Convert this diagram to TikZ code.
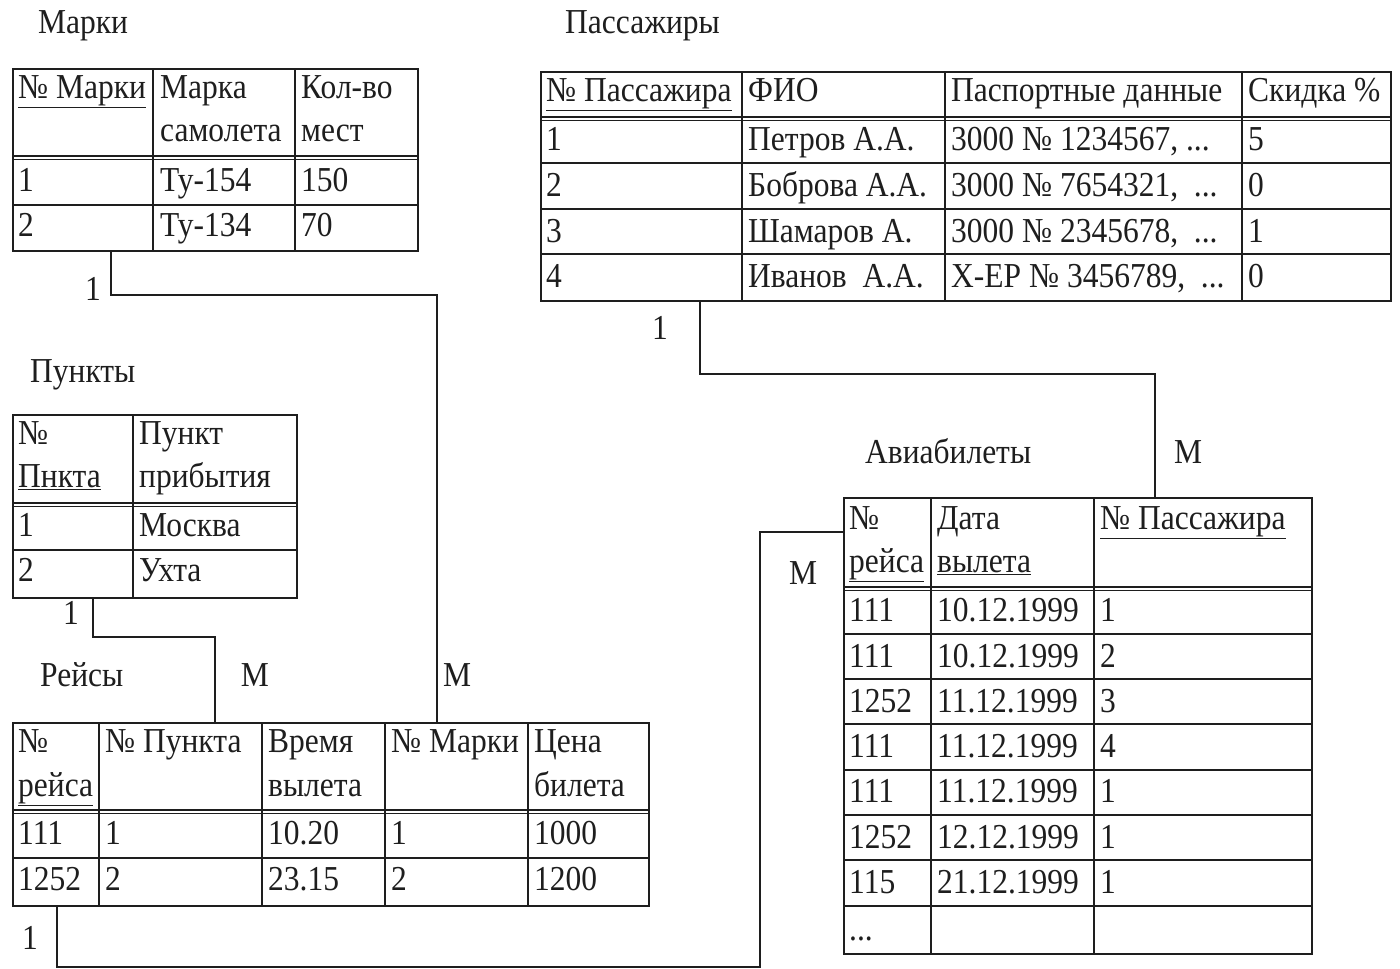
\documentclass[tikz,border=0pt]{standalone}
\usepackage{fontspec}
\setmainfont{Liberation Serif}[FakeStretch=0.9]
\definecolor{ink}{HTML}{1E1E1E}
\newcommand\tabfs{\fontsize{35}{42}\selectfont}
\begin{document}
\begin{tikzpicture}[x=1pt,y=-1pt,
  txt/.style={anchor=base west, inner sep=0pt, font=\tabfs, text=ink},
  lbl/.style={anchor=center, inner sep=0pt, font=\tabfs, text=ink},
  tbl/.style={draw=ink, line width=2pt, anchor=north west, inner sep=0pt},
  gridline/.style={draw=ink, line width=1.8pt},
  conn/.style={draw=ink, line width=1.8pt}]
\useasboundingbox[fill=white] (0,0) rectangle (1400,969);

% ---------- titles ----------
\node[txt] (t-marki) at (38,33) {Марки};
\node[txt] (t-pass) at (565,33) {Пассажиры};
\node[txt] (t-punkty) at (30,382) {Пункты};
\node[txt] (t-reisy) at (40,686) {Рейсы};
\node[txt] (t-avia) at (865,463) {Авиабилеты};

% ---------- table Марки ----------
\node[tbl, minimum width=405pt, minimum height=182pt] (marki) at (12,68) {};
\foreach \x in {153,295} \draw[gridline] (\x,68) -- (\x,250);
\foreach \y in {156,159.5,205} \draw[gridline] (12,\y) -- (417,\y);
\node[txt] (m-h1) at (18,98) {\underline{№ Марки}};
\node[txt] (m-h2a) at (160,98) {Марка};
\node[txt] (m-h2b) at (160,141) {самолета};
\node[txt] (m-h3a) at (301,98) {Кол-во};
\node[txt] (m-h3b) at (301,141) {мест};
\node[txt] (m-11) at (18,191) {1};
\node[txt] (m-12) at (160,191) {Ту-154};
\node[txt] (m-13) at (301,191) {150};
\node[txt] (m-21) at (18,236) {2};
\node[txt] (m-22) at (160,236) {Ту-134};
\node[txt] (m-23) at (301,236) {70};

% ---------- table Пассажиры ----------
\node[tbl, minimum width=850pt, minimum height=229pt] (pass) at (540,71) {};
\foreach \x in {742,945,1242} \draw[gridline] (\x,71) -- (\x,300);
\foreach \y in {117,120.5,163,209,254} \draw[gridline] (540,\y) -- (1390,\y);
\node[txt] (p-h1) at (546,101) {\underline{№ Пассажира}};
\node[txt] (p-h2) at (748,101) {ФИО};
\node[txt] (p-h3) at (951,101) {Паспортные данные};
\node[txt] (p-h4) at (1248,101) {Скидка \%};
\node[txt] (p-11) at (546,150) {1};
\node[txt] (p-12) at (748,150) {Петров А.А.};
\node[txt] (p-13) at (951,150) {3000 № 1234567, ...};
\node[txt] (p-14) at (1248,150) {5};
\node[txt] (p-21) at (546,196) {2};
\node[txt] (p-22) at (748,196) {Боброва А.А.};
\node[txt] (p-23) at (951,196) {3000 № 7654321, \ ...};
\node[txt] (p-24) at (1248,196) {0};
\node[txt] (p-31) at (546,242) {3};
\node[txt] (p-32) at (748,242) {Шамаров А.};
\node[txt] (p-33) at (951,242) {3000 № 2345678, \ ...};
\node[txt] (p-34) at (1248,242) {1};
\node[txt] (p-41) at (546,287) {4};
\node[txt] (p-42) at (748,287) {Иванов \ А.А.};
\node[txt] (p-43) at (951,287) {X-EP № 3456789, \ ...};
\node[txt] (p-44) at (1248,287) {0};

% ---------- table Пункты ----------
\node[tbl, minimum width=284pt, minimum height=183pt] (punkty) at (12,414) {};
\draw[gridline] (133,414) -- (133,597);
\foreach \y in {503,506.5,550} \draw[gridline] (12,\y) -- (296,\y);
\node[txt] (u-h1a) at (18,444) {№};
\node[txt] (u-h1b) at (18,487) {\underline{Пнкта}};
\node[txt] (u-h2a) at (139,444) {Пункт};
\node[txt] (u-h2b) at (139,487) {прибытия};
\node[txt] (u-11) at (18,536) {1};
\node[txt] (u-12) at (139,536) {Москва};
\node[txt] (u-21) at (18,581) {2};
\node[txt] (u-22) at (139,581) {Ухта};

% ---------- table Рейсы ----------
\node[tbl, minimum width=636pt, minimum height=183pt] (reisy) at (12,722) {};
\foreach \x in {99,262,385,528} \draw[gridline] (\x,722) -- (\x,905);
\foreach \y in {810,813.5,858} \draw[gridline] (12,\y) -- (648,\y);
\node[txt] (r-h1a) at (18,752) {№};
\node[txt] (r-h1b) at (18,796) {\underline{рейса}};
\node[txt] (r-h2) at (105,752) {№ Пункта};
\node[txt] (r-h3a) at (268,752) {Время};
\node[txt] (r-h3b) at (268,796) {вылета};
\node[txt] (r-h4) at (391,752) {№ Марки};
\node[txt] (r-h5a) at (534,752) {Цена};
\node[txt] (r-h5b) at (534,796) {билета};
\node[txt] (r-11) at (18,844) {111};
\node[txt] (r-12) at (105,844) {1};
\node[txt] (r-13) at (268,844) {10.20};
\node[txt] (r-14) at (391,844) {1};
\node[txt] (r-15) at (534,844) {1000};
\node[txt] (r-21) at (18,890) {1252};
\node[txt] (r-22) at (105,890) {2};
\node[txt] (r-23) at (268,890) {23.15};
\node[txt] (r-24) at (391,890) {2};
\node[txt] (r-25) at (534,890) {1200};

% ---------- table Авиабилеты ----------
\node[tbl, minimum width=468pt, minimum height=456pt] (avia) at (843,497) {};
\foreach \x in {931,1094} \draw[gridline] (\x,497) -- (\x,953);
\foreach \y in {587,590.5,634,679,724,770,815,860,906} \draw[gridline] (843,\y) -- (1311,\y);
\node[txt] (a-h1a) at (849,529) {№};
\node[txt] (a-h1b) at (849,572) {\underline{рейса}};
\node[txt] (a-h2a) at (937,529) {Дата};
\node[txt] (a-h2b) at (937,572) {\underline{вылета}};
\node[txt] (a-h3) at (1100,529) {\underline{№ Пассажира}};
\foreach \n/\y/\a/\b/\c in {1/621/111/10.12.1999/1, 2/667/111/10.12.1999/2,
  3/712/1252/11.12.1999/3, 4/757/111/11.12.1999/4, 5/802/111/11.12.1999/1,
  6/848/1252/12.12.1999/1, 7/893/115/21.12.1999/1}{
  \node[txt] (a-\n1) at (849,\y) {\a};
  \node[txt] (a-\n2) at (937,\y) {\b};
  \node[txt] (a-\n3) at (1100,\y) {\c};
}
\node[txt] (a-81) at (849,940) {...};

% ---------- connectors ----------
\draw[conn] ([xshift=99pt]marki.south west) |- ++(326,43) -- ([xshift=425pt]reisy.north west);
\draw[conn] ([xshift=81pt]punkty.south west) |- ++(122,38) -- ([xshift=203pt]reisy.north west);
\draw[conn] ([xshift=160pt]pass.south west) |- ++(455,72) -- ([xshift=312pt]avia.north west);
\coordinate (cb) at (760,967);
\draw[conn] ([xshift=45pt]reisy.south west) |- (cb) |- ([yshift=-35pt]avia.north west);

% ---------- cardinality labels ----------
\node[lbl] (c1) at (93,289) {1};
\node[lbl] (c2) at (457,675) {М};
\node[lbl] (c3) at (71,613) {1};
\node[lbl] (c4) at (255,675) {М};
\node[lbl] (c5) at (660,328) {1};
\node[lbl] (c6) at (1188,452) {М};
\node[lbl] (c7) at (803,573) {М};
\node[lbl] (c8) at (30,938) {1};
\end{tikzpicture}
\end{document}
